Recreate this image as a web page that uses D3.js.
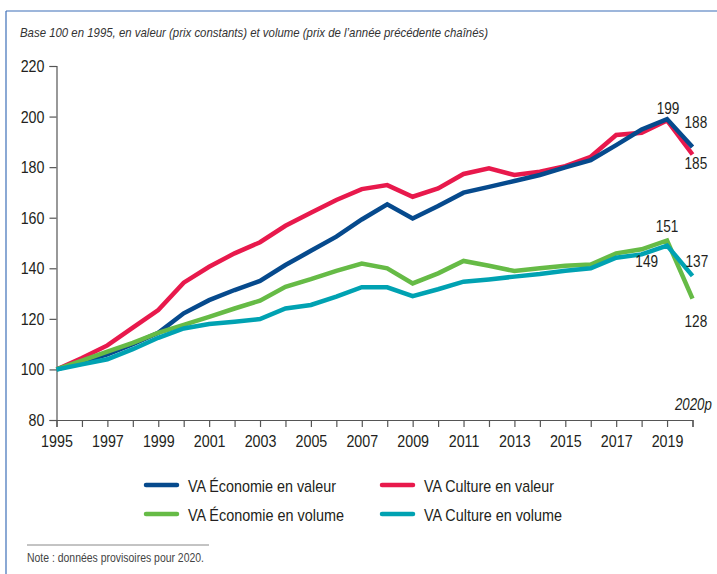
<!DOCTYPE html>
<html><head><meta charset="utf-8">
<script src="https://cdn.jsdelivr.net/npm/d3@7/dist/d3.min.js"></script>
<style>
body{margin:0;background:#fff;}
svg{display:block;}
text{font-family:"Liberation Sans",Arial,sans-serif;}
</style></head>
<body><svg id="c" width="717" height="574"></svg>
<script>
const years = [1995,1996,1997,1998,1999,2000,2001,2002,2003,2004,2005,2006,2007,2008,2009,2010,2011,2012,2013,2014,2015,2016,2017,2018,2019,2020];
const ecoValeur  = [100,103,106,110,114.5,122.2,127.4,131.4,135.0,141.3,146.9,152.5,159.3,165.3,159.7,164.6,169.9,172.2,174.5,176.9,179.9,182.8,188.7,194.9,199,188];
const cultValeur = [100,104.5,109.5,116.5,123.5,134.3,140.6,145.9,150.3,156.8,162.0,167.0,171.3,172.9,168.3,171.6,177.3,179.5,176.9,178.2,180.4,184.1,192.7,193.6,198.5,185];
const ecoVolume  = [100,103.5,107,110.5,114.5,117.6,120.8,124.1,127.2,132.7,135.7,139.0,141.9,140.0,134.0,138.0,142.9,141.0,138.9,140.0,141.0,141.5,145.9,147.5,151,128];
const cultVolume = [100,102,104,108,112.5,116.2,118.0,118.9,119.9,124.1,125.5,128.8,132.5,132.5,129.0,131.7,134.7,135.6,136.7,137.7,139.0,140.0,144.2,145.5,149,137];
const yTicks = [80,100,120,140,160,180,200,220];
const xLabelYears = [1995,1997,1999,2001,2003,2005,2007,2009,2011,2013,2015,2017,2019];
const seriesNames = ["VA Économie en valeur","VA Culture en valeur","VA Économie en volume","VA Culture en volume"];
const title = "Base 100 en 1995, en valeur (prix constants) et volume (prix de l’année précédente chaînés)";
const note = "Note : données provisoires pour 2020.";

const colors = {"VA Économie en valeur":"#064a8d","VA Culture en valeur":"#e8194c","VA Économie en volume":"#66bb46","VA Culture en volume":"#00a2b2"};
const dataBy = {"VA Économie en valeur":ecoValeur,"VA Culture en valeur":cultValeur,"VA Économie en volume":ecoVolume,"VA Culture en volume":cultVolume};

function condense(sel, k){
  sel.each(function(){
    const len = this.getComputedTextLength();
    if(len>0){ d3.select(this).attr("textLength", len*k).attr("lengthAdjust","spacingAndGlyphs"); }
  });
  return sel;
}
function fitWidth(sel, w){ return sel.attr("textLength", w).attr("lengthAdjust","spacingAndGlyphs"); }

const svg = d3.select("#c");
// frame
svg.append("line").attr("x1",6).attr("x2",717).attr("y1",11).attr("y2",11).attr("stroke","#3d6fb8").attr("stroke-width",1.2);
svg.append("line").attr("x1",6).attr("x2",6).attr("y1",11).attr("y2",574).attr("stroke","#3d6fb8").attr("stroke-width",1.2);

fitWidth(svg.append("text").attr("x",20).attr("y",37).attr("font-size",13.5).attr("font-style","italic").attr("fill","#333").text(title), 468);

const x = d3.scaleLinear().domain([1995,2020]).range([56.5,692.5]);
const y = d3.scaleLinear().domain([80,220]).range([420,66]);

const gy = svg.append("g").attr("transform","translate(56.5,0)")
  .call(d3.axisLeft(y).tickValues(yTicks).tickSize(7).tickPadding(5).tickFormat(d3.format("d")));
const gx = svg.append("g").attr("transform","translate(0,420)")
  .call(d3.axisBottom(x).tickValues(years).tickSize(7).tickPadding(4).tickFormat(d=> xLabelYears.includes(d)? String(d):""));
[gx,gy].forEach(g=>{
  g.select(".domain").attr("stroke","#555").attr("stroke-width",1.2);
  g.selectAll(".tick line").attr("stroke","#555").attr("stroke-width",1.2);
  g.selectAll(".tick text").attr("font-size",17).attr("fill","#231f20").attr("font-family",'"Liberation Sans",Arial,sans-serif');
  condense(g.selectAll(".tick text"), 0.84);
});
gx.selectAll(".tick text").attr("dy","0.93em");

const line = d3.line().x((d,i)=>x(years[i])).y(d=>y(d));
const order = ["VA Culture en valeur","VA Économie en valeur","VA Économie en volume","VA Culture en volume"];
order.forEach(n=>{
  svg.append("path").datum(dataBy[n]).attr("d",line).attr("fill","none")
    .attr("stroke",colors[n]).attr("stroke-width",4.5).attr("stroke-linejoin","miter").attr("stroke-linecap","butt");
});

// end labels
const lab = (txt,xx,yy,anchor)=> condense(svg.append("text").attr("x",xx).attr("y",yy).attr("text-anchor",anchor)
   .attr("font-size",17).attr("fill","#231f20").text(txt), 0.8);
const i19 = years.indexOf(2019), i20 = years.indexOf(2020);
lab(ecoValeur[i19], x(2019)+1, y(ecoValeur[i19])-5, "middle");
lab(ecoValeur[i20], x(2020)-8, y(ecoValeur[i20])-19, "start");
lab(cultValeur[i20], x(2020)-8, y(cultValeur[i20])+14, "start");
lab(ecoVolume[i19], x(2019), y(ecoVolume[i19])-8, "middle");
lab(cultVolume[i20], x(2020)-7, y(cultVolume[i20])-9, "start");
lab(cultVolume[i19], x(2019)-9, y(cultVolume[i19])+21, "end");
lab(ecoVolume[i20], x(2020)-8, y(ecoVolume[i20])+28, "start");
// "2020p" marker, horizontally condensed via transform
svg.append("text").attr("transform","translate(675,410) scale(0.78,1)").attr("x",0).attr("y",0)
  .attr("font-size",17).attr("font-style","italic").attr("fill","#231f20").text("2020p");

// legend
const legPos = [[144,485],[380,485],[144,514],[380,514]];
const legW = [148,130,156,138];
seriesNames.forEach((n,i)=>{
  const [lx,ly] = legPos[i];
  svg.append("line").attr("x1",lx+2).attr("x2",lx+33).attr("y1",ly).attr("y2",ly)
    .attr("stroke",colors[n]).attr("stroke-width",4.5).attr("stroke-linecap","round");
  fitWidth(svg.append("text").attr("x",lx+44).attr("y",ly+7).attr("font-size",17).attr("fill","#231f20").text(n), legW[i]);
});

svg.append("line").attr("x1",27).attr("x2",209).attr("y1",545).attr("y2",545).attr("stroke","#888").attr("stroke-width",1);
fitWidth(svg.append("text").attr("x",27).attr("y",562).attr("font-size",13).attr("fill","#444").text(note), 177);
</script></body></html>
